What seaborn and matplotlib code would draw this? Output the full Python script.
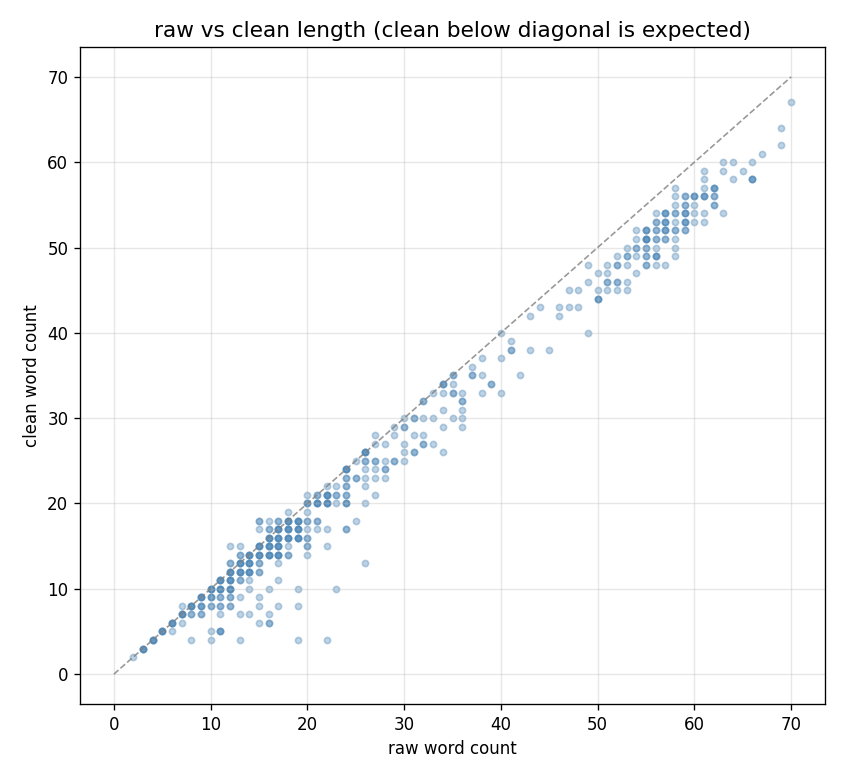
import numpy as np
import pandas as pd
import matplotlib
matplotlib.use("Agg")
import matplotlib.pyplot as plt
import seaborn as sns

# (raw, clean, multiplicity)
raw_words = [
    2, 3, 4, 5, 6, 6, 7, 7, 7, 8, 8, 8, 9, 9, 9,
    10, 10, 10, 10, 10, 11, 11, 11, 11, 11, 11,
    12, 12, 12, 12, 12, 12, 12,
    13, 13, 13, 13, 13, 13, 13, 13,
    14, 14, 14, 14, 14, 14,
    15, 15, 15, 15, 15, 15, 15, 15, 15,
    16, 16, 16, 16, 16, 16, 16, 16,
    17, 17, 17, 17, 17, 17, 17, 17,
    18, 18, 18, 18, 18, 18,
    19, 19, 19, 19, 19, 19,
    20, 20, 20, 20, 20, 20, 20, 20,
    21, 21, 21, 21,
    22, 22, 22, 22, 22, 22,
    23, 23, 23, 23,
    24, 24, 24, 24, 24, 24,
    25, 25, 25,
    26, 26, 26, 26, 26, 26, 26,
    27, 27, 27, 27, 27, 27,
    28, 28, 28, 28,
    29, 29, 29,
    30, 30, 30, 30, 30,
    31, 31, 31,
    32, 32, 32, 32,
    33, 33, 33,
    34, 34, 34, 34, 34,
    35, 35, 35, 35,
    36, 36, 36, 36, 36,
    37, 37,
    38, 38, 38,
    39,
    40, 40, 40,
    41, 41,
    42,
    43, 43,
    44,
    45,
    46, 46,
    47, 47,
    48, 48,
    49, 49, 49,
    50, 50, 50,
    51, 51, 51, 51,
    52, 52, 52, 52,
    53, 53, 53, 53, 53,
    54, 54, 54, 54, 54,
    55, 55, 55, 55, 55,
    56, 56, 56, 56, 56, 56, 56,
    57, 57, 57, 57, 57,
    58, 58, 58, 58, 58, 58, 58, 58, 58,
    59, 59, 59, 59, 59,
    60, 60, 60, 60,
    61, 61, 61, 61, 61, 61,
    62, 62, 62,
    63, 63, 63,
    64, 64,
    65,
    66, 66,
    67,
    69, 69,
    70,
]
clean_words = [
    2, 3, 4, 5, 6, 5, 7, 8, 6, 8, 7, 4, 9, 8, 7,
    10, 9, 8, 5, 4, 11, 10, 9, 8, 7, 5,
    12, 11, 10, 13, 15, 9, 8,
    15, 14, 13, 12, 11, 9, 7, 4,
    14, 13, 12, 11, 10, 7,
    18, 17, 15, 14, 13, 12, 9, 8, 6,
    18, 17, 16, 15, 14, 10, 7, 6,
    18, 17, 16, 15, 14, 13, 11, 8,
    19, 18, 17, 16, 15, 14,
    18, 17, 16, 10, 8, 4,
    21, 20, 19, 18, 17, 16, 15, 14,
    21, 20, 18, 17,
    22, 21, 20, 17, 15, 4,
    22, 21, 20, 10,
    24, 23, 22, 21, 20, 17,
    25, 23, 18,
    26, 25, 24, 23, 22, 20, 13,
    28, 27, 25, 24, 23, 21,
    27, 25, 24, 23,
    29, 28, 25,
    30, 29, 27, 26, 25,
    30, 28, 26,
    32, 30, 28, 27,
    33, 30, 27,
    34, 33, 31, 29, 26,
    35, 34, 33, 30,
    33, 32, 31, 30, 29,
    36, 35,
    37, 35, 33,
    34,
    40, 37, 33,
    39, 38,
    35,
    42, 38,
    43,
    38,
    43, 42,
    45, 43,
    45, 43,
    48, 46, 40,
    47, 45, 44,
    48, 47, 46, 45,
    49, 48, 46, 45,
    50, 49, 48, 46, 45,
    52, 51, 50, 49, 47,
    52, 51, 50, 49, 48,
    54, 53, 52, 51, 50, 49, 48,
    54, 53, 52, 51, 48,
    57, 56, 55, 54, 53, 52, 51, 50, 49,
    56, 55, 54, 53, 52,
    56, 55, 54, 53,
    59, 58, 57, 56, 54, 53,
    57, 56, 55,
    60, 59, 54,
    60, 58,
    59,
    60, 58,
    61,
    64, 62,
    67,
]
repeats = [
    1, 4, 4, 4, 4, 1, 4, 1, 1, 4, 2, 1, 4, 3, 2,
    4, 3, 2, 1, 1, 4, 4, 2, 2, 1, 3,
    4, 4, 4, 2, 1, 2, 2,
    1, 2, 4, 4, 2, 1, 1, 1,
    4, 4, 4, 1, 1, 1,
    2, 1, 4, 4, 2, 2, 1, 1, 1,
    1, 2, 4, 4, 4, 1, 1, 2,
    2, 4, 4, 4, 4, 1, 1, 1,
    1, 4, 4, 4, 1, 2,
    4, 4, 4, 1, 1, 1,
    1, 3, 1, 2, 1, 2, 2, 1,
    2, 4, 2, 1,
    1, 4, 4, 1, 1, 1,
    1, 2, 1, 1,
    4, 2, 2, 2, 3, 2,
    1, 2, 1,
    4, 2, 1, 1, 1, 1, 1,
    1, 1, 2, 1, 1, 1,
    1, 1, 2, 1,
    1, 1, 2,
    1, 2, 1, 1, 1,
    2, 1, 2,
    2, 1, 1, 2,
    1, 1, 1,
    3, 1, 1, 1, 1,
    2, 1, 2, 1,
    1, 2, 1, 1, 1,
    1, 2,
    1, 1, 1,
    2,
    1, 1, 1,
    1, 2,
    1,
    1, 1,
    1,
    1,
    1, 1,
    1, 1,
    1, 1,
    1, 1, 1,
    1, 1, 3,
    1, 1, 2, 1,
    1, 2, 2, 1,
    1, 2, 1, 1, 1,
    1, 1, 2, 1, 1,
    3, 4, 2, 2, 2,
    1, 2, 2, 2, 1, 3, 1,
    3, 3, 3, 2, 1,
    1, 1, 1, 2, 1, 2, 1, 1, 1,
    2, 2, 3, 3, 2,
    3, 1, 1, 1,
    1, 1, 1, 3, 1, 1,
    3, 2, 2,
    1, 1, 1,
    1, 1,
    1,
    1, 3,
    1,
    1, 1,
    1,
]

df = pd.DataFrame({
    "raw": np.repeat(raw_words, repeats),
    "clean": np.repeat(clean_words, repeats),
})

fig = plt.figure(figsize=(845 / 120, 780 / 120), dpi=120)
ax = fig.add_axes([80 / 845, 1 - 704 / 780, (825 - 80) / 845, (704 - 47) / 780])

sns.scatterplot(data=df, x="raw", y="clean", ax=ax, color="steelblue",
                alpha=0.35, s=14, linewidth=1, edgecolor="face")

lim = max(df["raw"].max(), df["clean"].max())
ax.plot([0, lim], [0, lim], ls="--", color="gray", lw=1, alpha=0.8)

ax.grid(True, alpha=0.3)
ax.set_xticks([0, 10, 20, 30, 40, 50, 60, 70])
ax.set_yticks([0, 10, 20, 30, 40, 50, 60, 70])
ax.set_xlabel("raw word count")
ax.set_ylabel("clean word count")
ax.set_title("raw vs clean length (clean below diagonal is expected)", fontsize=13)

fig.savefig("out.png", dpi=120)
